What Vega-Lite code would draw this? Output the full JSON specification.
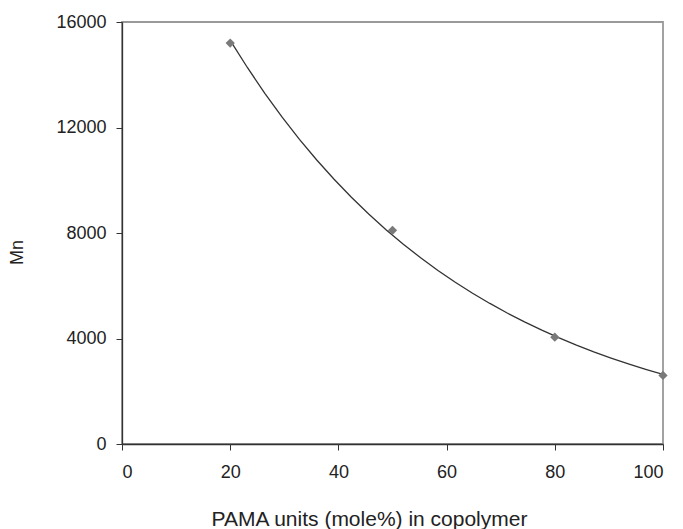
{
  "$schema": "https://vega.github.io/schema/vega-lite/v6.json",
  "autosize": "none",
  "width": 541,
  "height": 422,
  "padding": {"left": 122, "top": 22, "right": 20, "bottom": 85},
  "background": "#ffffff",
  "config": {
    "view": {"stroke": "#999999", "strokeWidth": 1.8},
    "axis": {
      "labelFont": "Liberation Sans",
      "titleFont": "Liberation Sans",
      "labelFontSize": 18,
      "labelColor": "#222222",
      "titleColor": "#222222",
      "titleFontWeight": "normal",
      "domainColor": "#333333",
      "tickColor": "#333333",
      "domainWidth": 1.3,
      "tickWidth": 1,
      "tickSize": 6,
      "grid": false
    }
  },
  "data": {
    "values": [
      {"pama": 20, "mn": 15200},
      {"pama": 50, "mn": 8100},
      {"pama": 80, "mn": 4050},
      {"pama": 100, "mn": 2600}
    ]
  },
  "layer": [
    {
      "transform": [
        {"regression": "mn", "on": "pama", "method": "exp", "extent": [20, 100]}
      ],
      "mark": {"type": "line", "color": "#333333", "strokeWidth": 1.3, "clip": true},
      "encoding": {
        "x": {"field": "pama", "type": "quantitative"},
        "y": {"field": "mn", "type": "quantitative"}
      }
    },
    {
      "mark": {"type": "point", "shape": "diamond", "filled": true, "color": "#7a7a7a", "size": 85, "opacity": 1},
      "encoding": {
        "x": {
          "field": "pama",
          "type": "quantitative",
          "scale": {"domain": [0, 100], "nice": false},
          "axis": {
            "values": [0, 20, 40, 60, 80, 100],
            "title": "PAMA units (mole%) in copolymer",
            "titleFontSize": 21,
            "labelPadding": 13,
            "titleX": 247,
            "titleY": 81,
            "titleBaseline": "alphabetic",
            "titleAnchor": null
          }
        },
        "y": {
          "field": "mn",
          "type": "quantitative",
          "scale": {"domain": [0, 16000], "nice": false},
          "axis": {
            "values": [0, 4000, 8000, 12000, 16000],
            "format": "d",
            "title": "Mn",
            "titleFontSize": 18,
            "labelPadding": 10,
            "titleX": -105,
            "titleY": 230,
            "titleBaseline": "middle",
            "titleAnchor": null
          }
        }
      }
    }
  ]
}
